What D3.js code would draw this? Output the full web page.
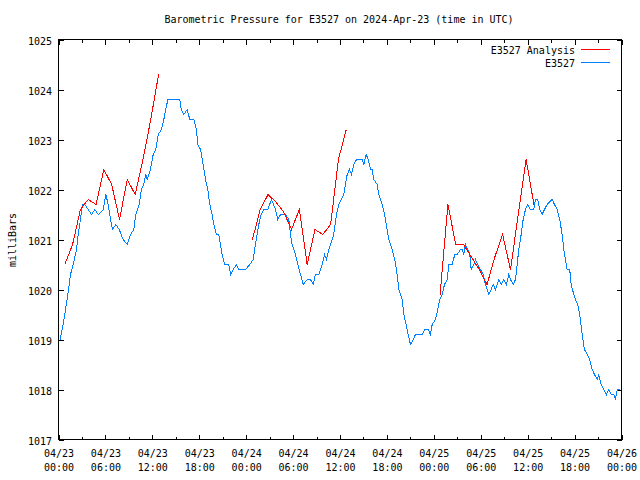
<!DOCTYPE html>
<html><head><meta charset="utf-8">
<script src="https://cdn.jsdelivr.net/npm/d3@7"></script>
<style>
body{margin:0;background:#fff}
svg{display:block}
text{font-family:"DejaVu Sans Mono","Liberation Mono",monospace;font-size:10px;fill:#000}
</style>
</head><body>
<svg id="chart" width="640" height="480"></svg>
<script>
// ---------- data ----------
const chartTitle = "Barometric Pressure for E3527 on 2024-Apr-23 (time in UTC)";
const yAxisLabel = "milliBars";
const seriesNames = ["E3527 Analysis", "E3527"];
const seriesColors = ["#ff0000", "#0080ff"];
const startTime = "2024-04-23T00:00:00Z";
const endTime = "2024-04-26T00:00:00Z";
const yTicks = [1017, 1018, 1019, 1020, 1021, 1022, 1023, 1024, 1025];

// observed station pressure: hours after start, millibars
const stationHours = [0.2,0.6,1.0,1.37,1.53,1.88,2.3,2.52,2.81,3.07,3.36,3.8,4.22,4.64,5.08,5.72,6.05,6.36,6.65,6.91,7.33,7.76,8.27,8.79,9.21,9.63,9.88,10.32,10.61,10.91,11.16,11.34,11.76,12.11,12.44,12.75,13.17,13.47,13.72,13.98,15.51,15.69,16.02,16.46,16.79,17.3,17.65,17.81,18.16,18.5,18.8,19.09,19.35,19.65,19.86,20.2,20.5,20.72,20.93,21.23,21.78,22.0,22.34,22.76,23.06,23.91,24.46,24.9,25.19,25.61,25.92,26.25,26.76,27.24,27.75,28.04,28.39,29.03,29.45,29.67,29.88,30.31,30.6,30.95,31.29,31.8,32.23,32.57,32.86,33.29,33.72,34.02,34.27,34.57,35.0,35.2,35.55,35.84,36.15,36.48,36.7,36.92,37.21,37.47,37.76,38.11,38.84,39.04,39.35,39.6,39.9,40.12,40.32,40.75,40.96,41.39,41.69,42.03,42.24,42.67,43.0,43.31,43.52,43.95,44.16,44.46,44.72,45.01,45.36,45.65,46.51,46.84,47.28,47.57,47.79,48.21,48.5,48.76,49.07,49.36,49.71,49.91,50.35,50.68,50.98,51.41,51.62,51.83,52.05,52.34,52.6,52.78,53.11,53.32,53.62,53.96,54.31,54.6,54.82,55.03,55.33,55.59,55.88,56.31,56.61,56.94,57.29,57.58,57.8,58.15,58.44,58.66,58.86,59.17,59.42,59.72,60.01,60.36,60.78,61.0,61.29,61.55,61.85,62.15,62.49,63.13,63.43,63.77,64.1,64.41,64.62,64.83,65.05,65.38,65.56,65.9,66.11,66.41,66.66,66.97,67.26,67.61,67.94,68.25,68.54,68.89,69.09,69.4,69.73,70.08,70.38,70.68,71.01,71.23,71.45,71.87];
const stationPressure = [1019.0,1019.3,1019.7,1020.1,1020.3,1020.5,1020.8,1021.1,1021.4,1021.7,1021.7,1021.6,1021.5,1021.6,1021.5,1021.6,1021.9,1021.7,1021.4,1021.2,1021.3,1021.2,1021.0,1020.9,1021.1,1021.2,1021.5,1021.7,1022.0,1022.1,1022.3,1022.2,1022.4,1022.7,1022.8,1023.1,1023.2,1023.4,1023.6,1023.8,1023.8,1023.6,1023.5,1023.6,1023.4,1023.4,1023.2,1022.9,1022.8,1022.5,1022.2,1022.0,1021.7,1021.5,1021.3,1021.1,1021.1,1020.9,1020.7,1020.5,1020.5,1020.3,1020.4,1020.5,1020.4,1020.4,1020.5,1020.6,1020.9,1021.3,1021.5,1021.6,1021.6,1021.8,1021.6,1021.4,1021.5,1021.5,1021.4,1021.1,1020.9,1020.7,1020.5,1020.3,1020.1,1020.2,1020.2,1020.1,1020.3,1020.3,1020.5,1020.7,1020.6,1020.8,1021.0,1021.1,1021.5,1021.7,1021.8,1021.9,1022.1,1022.3,1022.4,1022.3,1022.5,1022.6,1022.6,1022.5,1022.7,1022.6,1022.4,1022.4,1022.2,1022.1,1021.9,1021.7,1021.5,1021.2,1021.0,1020.8,1020.6,1020.3,1020.0,1019.8,1019.5,1019.3,1019.1,1018.9,1019.0,1019.1,1019.1,1019.2,1019.2,1019.1,1019.3,1019.4,1019.6,1019.8,1019.9,1020.1,1020.2,1020.5,1020.5,1020.7,1020.7,1020.8,1020.8,1020.7,1020.9,1020.8,1020.7,1020.4,1020.5,1020.6,1020.5,1020.4,1020.3,1020.1,1020.0,1019.9,1020.0,1020.1,1020.0,1020.2,1020.1,1020.2,1020.1,1020.3,1020.2,1020.1,1020.2,1020.5,1020.8,1021.1,1021.4,1021.6,1021.7,1021.6,1021.6,1021.8,1021.8,1021.6,1021.5,1021.6,1021.7,1021.8,1021.7,1021.6,1021.4,1021.1,1020.8,1020.6,1020.4,1020.4,1020.1,1019.9,1019.8,1019.7,1019.5,1019.1,1018.8,1018.7,1018.6,1018.4,1018.3,1018.2,1018.3,1018.1,1018.0,1017.9,1018.0,1017.9,1017.9,1017.8,1018.0,1018.0];

// analysis runs: hourly values, first value at the given hour after start
const analysisStartHours = [0.8, 24.8, 48.8];
const analysisRun1 = [1020.5,1020.9,1021.6,1021.8,1021.7,1022.4,1022.1,1021.4,1022.2,1021.9,1022.6,1023.4,1024.3];
const analysisRun2 = [1021.0,1021.6,1021.9,1021.75,1021.55,1021.2,1021.6,1020.5,1021.2,1021.1,1021.3,1022.6,1023.2];
const analysisRun3 = [1019.9,1021.7,1020.9,1020.9,1020.65,1020.4,1020.1,1020.65,1021.1,1020.4,1021.5,1022.6,1021.7];

// ---------- chart ----------
const plotLeft = 58.5, plotRight = 621.5, plotTop = 39.5, plotBottom = 439.5;
const svg = d3.select("#chart");
const t0 = new Date(startTime), t1 = new Date(endTime);
const hourMs = 3600 * 1000;
const toDate = h => new Date(t0.getTime() + h * hourMs);

const x = d3.scaleUtc().domain([t0, t1]).range([plotLeft, plotRight]);
const y = d3.scaleLinear().domain([yTicks[0], yTicks[yTicks.length - 1]]).range([plotBottom, plotTop]);

const majorX = d3.utcHour.every(6).range(t0, new Date(t1.getTime() + 1));
const minorX = d3.utcHour.every(3).range(t0, new Date(t1.getTime() + 1));
const fmtDay = d3.utcFormat("%m/%d"), fmtTime = d3.utcFormat("%H:%M");

function strip(g) {
  g.select(".domain").remove();
  g.selectAll(".tick line").attr("stroke", "#000").attr("shape-rendering", "crispEdges");
}

// minor ticks bottom/top
svg.append("g").attr("transform", `translate(0,${plotBottom})`)
  .call(d3.axisBottom(x).tickValues(minorX).tickSize(-3).tickFormat(""))
  .call(strip);
svg.append("g").attr("transform", `translate(0,${plotTop})`)
  .call(d3.axisTop(x).tickValues(minorX).tickSize(-3).tickFormat(""))
  .call(strip);
// major ticks bottom with two-line labels
const gx = svg.append("g").attr("transform", `translate(0,${plotBottom})`)
  .call(d3.axisBottom(x).tickValues(majorX).tickSize(-5).tickFormat(""))
  .call(strip);
gx.selectAll(".tick text").remove();
gx.selectAll(".tick").each(function(d) {
  const t = d3.select(this).append("text").attr("text-anchor", "middle").attr("fill", "#000");
  t.append("tspan").attr("x", 0).attr("y", 17.5).text(fmtDay(d));
  t.append("tspan").attr("x", 0).attr("y", 31.5).text(fmtTime(d));
});
svg.append("g").attr("transform", `translate(0,${plotTop})`)
  .call(d3.axisTop(x).tickValues(majorX).tickSize(-5).tickFormat(""))
  .call(strip);

// y axes
const gy = svg.append("g").attr("transform", `translate(${plotLeft},0)`)
  .call(d3.axisLeft(y).tickValues(yTicks).tickSize(-5).tickPadding(6).tickFormat(d3.format("d")))
  .call(strip);
gy.attr("font-family", null).attr("font-size", null);
gy.selectAll(".tick text").attr("x", -6.5).attr("dy", "0.45em");
svg.append("g").attr("transform", `translate(${plotRight},0)`)
  .call(d3.axisRight(y).tickValues(yTicks).tickSize(-5).tickFormat(""))
  .call(strip);

// border
svg.append("rect").attr("x", plotLeft).attr("y", plotTop)
  .attr("width", plotRight - plotLeft).attr("height", plotBottom - plotTop)
  .attr("fill", "none").attr("stroke", "#000").attr("shape-rendering", "crispEdges");

// lines
const line = d3.line().x(d => x(d[0])).y(d => y(d[1]));
const stationData = stationHours.map((h, i) => [toDate(h), stationPressure[i]]);
svg.append("path").datum(stationData)
  .attr("d", line).attr("fill", "none").attr("stroke", seriesColors[1])
  .attr("stroke-width", 1).attr("shape-rendering", "crispEdges");

[analysisRun1, analysisRun2, analysisRun3].forEach((run, r) => {
  const data = run.map((v, k) => [toDate(analysisStartHours[r] + k), v]);
  svg.append("path").datum(data)
    .attr("d", line).attr("fill", "none").attr("stroke", seriesColors[0])
    .attr("stroke-width", 1).attr("shape-rendering", "crispEdges");
});

// title & labels
svg.append("text").attr("x", 339).attr("y", 23).attr("text-anchor", "middle").text(chartTitle);
svg.append("text").attr("transform", "translate(16,240) rotate(-90)")
  .attr("text-anchor", "middle").text(yAxisLabel);

// legend
seriesNames.forEach((name, i) => {
  const ly = 49 + i * 13;
  svg.append("text").attr("x", 575).attr("y", ly + 4.5).attr("text-anchor", "end").text(name);
  svg.append("line").attr("x1", 581).attr("x2", 610).attr("y1", ly + 0.5).attr("y2", ly + 0.5)
    .attr("stroke", seriesColors[i]).attr("shape-rendering", "crispEdges");
});
</script>
</body></html>
